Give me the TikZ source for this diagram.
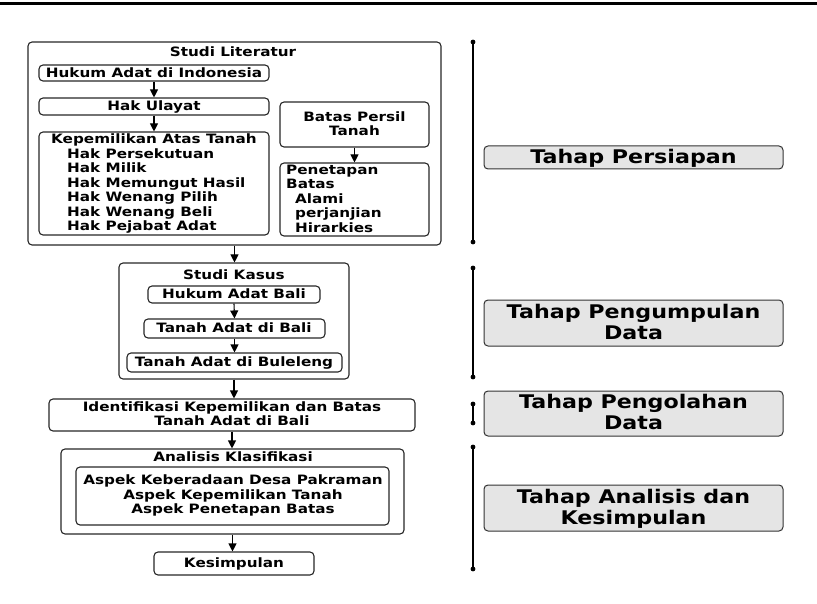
\documentclass[tikz,border=0pt]{standalone}
\usepackage{fontspec}
\setmainfont{DejaVu Sans}[FakeStretch=1.18]
\usetikzlibrary{arrows.meta,fit}
\newcommand{\smf}{\fontsize{12.9}{14.5}\selectfont\bfseries}
\newcommand{\lgf}{\fontsize{18.8}{21}\selectfont\bfseries}
\begin{document}
\begin{tikzpicture}[x=1pt,y=-1pt,
  box/.style={draw=black!85, line width=1.1pt, rounded corners=4pt, inner sep=0pt},
  phasebox/.style={draw=black!80, fill=black!10, line width=1pt, rounded corners=4pt, inner sep=0pt},
  txt/.style={font=\smf, inner sep=0pt, anchor=base},
  ltxt/.style={font=\smf, inner sep=0pt, anchor=base west},
  big/.style={font=\lgf, inner sep=0pt, anchor=base},
  arr/.style={-{Triangle[width=8pt,length=8pt]}, line width=1.1pt},
  tl/.style={line width=1.1pt},
  dot/.style={fill=black}]
\useasboundingbox (0,0) rectangle (817,604);
\draw[line width=3pt] (0,3.5) -- (817,3.5);

% ---------- Studi Literatur ----------
\node[box, fit={(28,42)(441,245)}] (lit) {};
\node[txt] (litT) at (233,56.7) {Studi Literatur};
\node[box, fit={(39,65)(269,81)}] (hukum) {};
\node[txt] (hukumT) at (154,77.7) {Hukum Adat di Indonesia};
\node[box, fit={(39,98)(269,115)}] (ulayat) {};
\node[txt] (ulayatT) at (154,110.7) {Hak Ulayat};
\node[box, fit={(39,132)(269,235)}] (kep) {};
\node[ltxt] (k1) at (51,143.7) {Kepemilikan Atas Tanah};
\node[ltxt] (k2) at (67,158.5) {Hak Persekutuan};
\node[ltxt] (k3) at (67,172.8) {Hak Milik};
\node[ltxt] (k4) at (67,187.3) {Hak Memungut Hasil};
\node[ltxt] (k5) at (67,201.8) {Hak Wenang Pilih};
\node[ltxt] (k6) at (67,216.3) {Hak Wenang Beli};
\node[ltxt] (k7) at (67,230.8) {Hak Pejabat Adat};
\node[box, fit={(280,102)(429,147)}] (persil) {};
\node[txt] (p1) at (354.5,121.7) {Batas Persil};
\node[txt] (p2) at (354.5,135.7) {Tanah};
\node[box, fit={(280,163)(429,236)}] (penet) {};
\node[ltxt] (q1) at (286,174.7) {Penetapan};
\node[ltxt] (q2) at (286,188.9) {Batas};
\node[ltxt] (q3) at (295,203.4) {Alami};
\node[ltxt] (q4) at (295,217.7) {perjanjian};
\node[ltxt] (q5) at (295,232.3) {Hirarkies};

\draw[arr] (hukum.south) -- (ulayat.north);
\draw[arr] (ulayat.south) -- (kep.north);
\draw[arr] (persil.south) -- (penet.north);

% ---------- Studi Kasus ----------
\node[box, fit={(119,263)(349,379)}] (kasus) {};
\node[txt] (kasusT) at (234,279.7) {Studi Kasus};
\node[box, fit={(148,286)(320,303)}] (bali) {};
\node[txt] (baliT) at (234,298.7) {Hukum Adat Bali};
\node[box, fit={(144,319)(325,338)}] (tbali) {};
\node[txt] (tbaliT) at (234,332.4) {Tanah Adat di Bali};
\node[box, fit={(127,353)(342,372)}] (bul) {};
\node[txt] (bulT) at (234,366.4) {Tanah Adat di Buleleng};

\draw[arr] (lit.south) -- (lit.south |- kasus.north);
\draw[arr] (bali.south) -- (tbali.north);
\draw[arr] (tbali.south) -- (bul.north);

% ---------- Identifikasi ----------
\node[box, fit={(49,399)(415,431)}] (ident) {};
\node[txt] (i1) at (232,411.7) {Identifikasi Kepemilikan dan Batas};
\node[txt] (i2) at (232,425.7) {Tanah Adat di Bali};
\draw[arr] (kasus.south) -- (kasus.south |- ident.north);

% ---------- Analisis ----------
\node[box, fit={(61,449)(404,534)}] (anal) {};
\node[txt] (aT) at (233,461.7) {Analisis Klasifikasi};
\node[box, fit={(76,467)(389,525)}] (aspek) {};
\node[txt] (a1) at (233,484.7) {Aspek Keberadaan Desa Pakraman};
\node[txt] (a2) at (233,499.7) {Aspek Kepemilikan Tanah};
\node[txt] (a3) at (233,513.7) {Aspek Penetapan Batas};
\draw[arr] (ident.south) -- (ident.south |- anal.north);

\node[box, fit={(154,552)(314,575)}] (kes) {};
\node[txt] (kesT) at (234,567.7) {Kesimpulan};
\draw[arr] (anal.south) -- (anal.south |- kes.north);

% ---------- Timeline ----------
\coordinate (t1a) at (473,42);  \coordinate (t1b) at (473,242);
\coordinate (t2a) at (473,268); \coordinate (t2b) at (473,377);
\coordinate (t3a) at (473,404); \coordinate (t3b) at (473,423);
\coordinate (t4a) at (473,447); \coordinate (t4b) at (473,569);
\foreach \a/\b in {t1a/t1b,t2a/t2b,t3a/t3b,t4a/t4b}{
  \draw[tl] (\a) -- (\b);
  \fill[dot] (\a) circle (2.4);
  \fill[dot] (\b) circle (2.4);
}

% ---------- Phases ----------
\node[phasebox, fit={(484,146)(783,169)}] (ph1) {};
\node[big] (ph1T) at (633.5,163.9) {Tahap Persiapan};
\node[phasebox, fit={(484,300)(783,346)}] (ph2) {};
\node[big] (ph2a) at (633.5,318.9) {Tahap Pengumpulan};
\node[big] (ph2b) at (633.5,339.9) {Data};
\node[phasebox, fit={(484,391)(783,436)}] (ph3) {};
\node[big] (ph3a) at (633.5,408.9) {Tahap Pengolahan};
\node[big] (ph3b) at (633.5,429.9) {Data};
\node[phasebox, fit={(484,485)(783,531)}] (ph4) {};
\node[big] (ph4a) at (633.5,503.9) {Tahap Analisis dan};
\node[big] (ph4b) at (633.5,524.9) {Kesimpulan};
\end{tikzpicture}
\end{document}
